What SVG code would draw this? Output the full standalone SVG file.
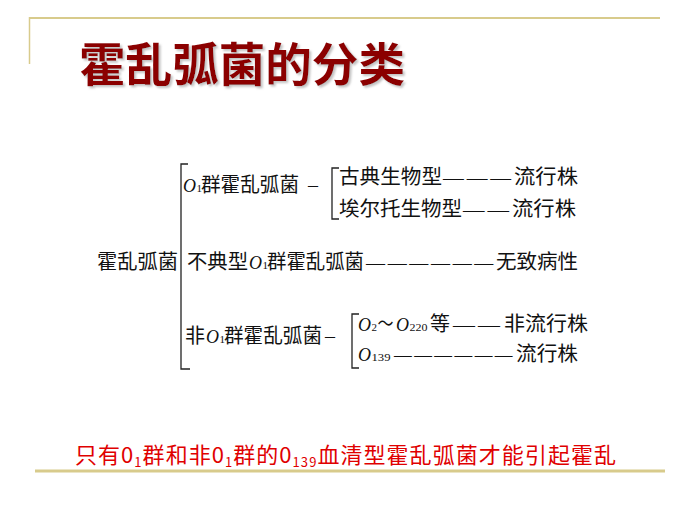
<svg xmlns="http://www.w3.org/2000/svg" width="700" height="525" viewBox="0 0 700 525">
<defs>
<style>
.cjk{font-family:"Noto Sans CJK SC","Noto Sans CJK JP",sans-serif;font-size:20px;fill:#111}
.o{font-family:"Liberation Serif",serif;font-style:italic;font-size:18px;fill:#111}
.sub{font-family:"Liberation Serif",serif;font-size:11px;fill:#111}
.dash{font-family:"Liberation Serif",serif;font-size:20px;fill:#111}
.dl{font-family:"Liberation Serif",serif;font-size:18px;fill:#111;letter-spacing:2.5px}
.br{fill:none;stroke:#222;stroke-width:1.3}
.gold{stroke:#D8CB8C;fill:none}
</style>
<filter id="sh" x="-5%" y="-10%" width="115%" height="130%">
<feDropShadow dx="2" dy="2" stdDeviation="0.8" flood-color="#999" flood-opacity="0.6"/>
</filter>
</defs>
<rect width="700" height="525" fill="#fff"/>
<g id="frame">
<line class="gold" x1="29" y1="18" x2="660" y2="18" stroke-width="2"/>
<line class="gold" x1="29.5" y1="17" x2="29.5" y2="64" stroke-width="1.5"/>
<line class="gold" x1="35" y1="471" x2="665" y2="471" stroke-width="3"/>
</g>
<g id="title">
<text x="79" y="81" font-family="Noto Sans CJK SC, sans-serif" font-weight="bold" font-size="46" fill="#8B0000" textLength="326" lengthAdjust="spacingAndGlyphs" filter="url(#sh)">霍乱弧菌的分类</text>
</g>
<g id="connectors">
<path class="br" d="M188,164 H181 V369 H190"/>
<path class="br" d="M339,168 H332 V219 H339"/>
<path class="br" d="M359,314 H352 V368 H359"/>
</g>
<g id="root">
<text class="cjk" x="97" y="269" textLength="81" lengthAdjust="spacingAndGlyphs">霍乱弧菌</text>
</g>
<g id="o1">
<text class="o" x="183" y="192">O</text>
<text class="sub" x="196.5" y="192">1</text>
<text class="cjk" x="201" y="192" textLength="98" lengthAdjust="spacingAndGlyphs">群霍乱弧菌</text>
<text class="dash" x="308" y="192">–</text>
</g>
<g id="classic">
<text class="cjk" x="339" y="184" textLength="103" lengthAdjust="spacingAndGlyphs">古典生物型</text>
<text class="dl" x="443" y="184" textLength="71" lengthAdjust="spacingAndGlyphs">———</text>
<text class="cjk" x="514" y="184" textLength="64" lengthAdjust="spacingAndGlyphs">流行株</text>
</g>
<g id="eltor">
<text class="cjk" x="339" y="216" textLength="123" lengthAdjust="spacingAndGlyphs">埃尔托生物型</text>
<text class="dl" x="463" y="216" textLength="49" lengthAdjust="spacingAndGlyphs">——</text>
<text class="cjk" x="512" y="216" textLength="64" lengthAdjust="spacingAndGlyphs">流行株</text>
</g>
<g id="atypical">
<text class="cjk" x="187" y="269" textLength="61" lengthAdjust="spacingAndGlyphs">不典型</text>
<text class="o" x="249" y="269">O</text>
<text class="sub" x="262.5" y="269">1</text>
<text class="cjk" x="267" y="269" textLength="97" lengthAdjust="spacingAndGlyphs">群霍乱弧菌</text>
<text class="dl" x="366" y="269" textLength="130" lengthAdjust="spacingAndGlyphs">——————</text>
<text class="cjk" x="496" y="269" textLength="82" lengthAdjust="spacingAndGlyphs">无致病性</text>
</g>
<g id="nono1">
<text class="cjk" x="185" y="343">非</text>
<text class="o" x="206" y="343">O</text>
<text class="sub" x="219.5" y="343">1</text>
<text class="cjk" x="224" y="343" textLength="98" lengthAdjust="spacingAndGlyphs">群霍乱弧菌</text>
<text class="dash" x="325" y="343">–</text>
</g>
<g id="o2o220">
<text class="o" x="358" y="331">O</text>
<text class="sub" x="371.5" y="331">2</text>
<text class="cjk" x="377.5" y="331" textLength="16" lengthAdjust="spacingAndGlyphs">～</text>
<text class="o" x="396" y="331">O</text>
<text class="sub" x="409.5" y="331" textLength="18" lengthAdjust="spacingAndGlyphs">220</text>
<text class="cjk" x="430" y="331">等</text>
<text class="dl" x="453" y="331" textLength="50" lengthAdjust="spacingAndGlyphs">——</text>
<text class="cjk" x="504" y="331" textLength="84" lengthAdjust="spacingAndGlyphs">非流行株</text>
</g>
<g id="o139">
<text class="o" x="358" y="361">O</text>
<text class="sub" x="371.5" y="361" textLength="19" lengthAdjust="spacingAndGlyphs">139</text>
<text class="dl" x="394" y="361" textLength="121" lengthAdjust="spacingAndGlyphs">——————</text>
<text class="cjk" x="516" y="361" textLength="62" lengthAdjust="spacingAndGlyphs">流行株</text>
</g>
<g id="note">
<text x="75" y="463" font-family="Noto Sans CJK SC, sans-serif" font-size="22" fill="#E00000" textLength="541" lengthAdjust="spacing">只有0<tspan font-size="13" dy="4">1</tspan><tspan dy="-4">群和非0</tspan><tspan font-size="13" dy="4">1</tspan><tspan dy="-4">群的0</tspan><tspan font-size="13" dy="4">139</tspan><tspan dy="-4">血清型霍乱弧菌才能引起霍乱</tspan></text>
</g>
</svg>
